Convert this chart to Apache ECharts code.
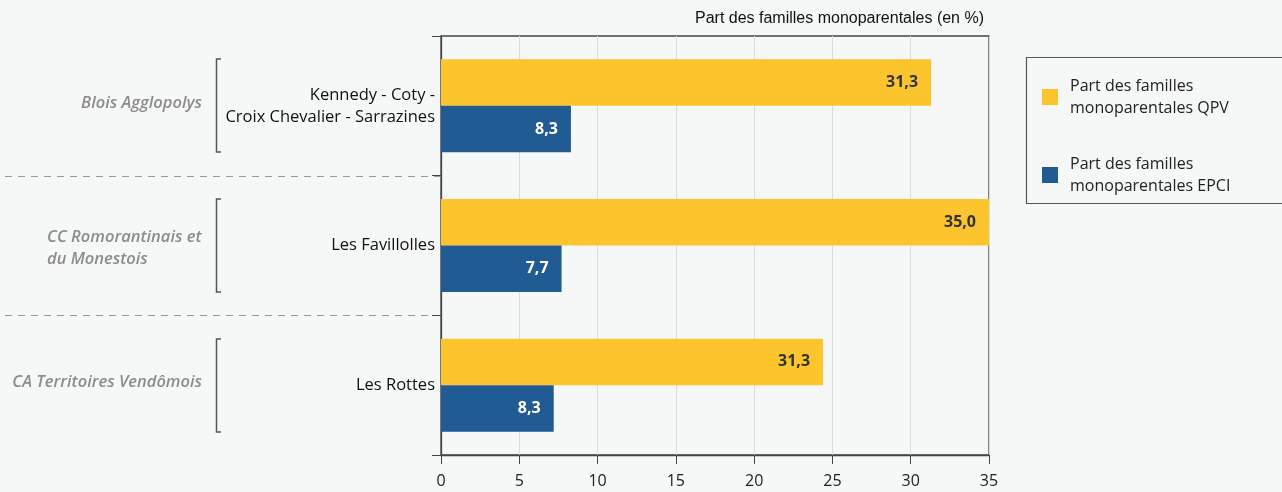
<!DOCTYPE html>
<html>
<head>
<meta charset="utf-8">
<script src="https://cdn.jsdelivr.net/npm/echarts@6/dist/echarts.min.js"></script>
<style>
  html, body { margin: 0; padding: 0; background: #f6f7f7; }
  #chart { width: 1282px; height: 492px; }
</style>
</head>
<body>
<div id="chart"></div>
<script>
// données
const categories = ['Kennedy - Coty -\nCroix Chevalier - Sarrazines', 'Les Favillolles', 'Les Rottes']
const groups = ['Blois Agglopolys', 'CC Romorantinais et\ndu Monestois', 'CA Territoires Vendômois']
const qpvValues = [31.3, 35.0, 24.4]
const epciValues = [8.3, 7.7, 7.2]
const qpvLabels = ['31,3', '35,0', '31,3']
const epciLabels = ['8,3', '7,7', '8,3']
const seriesNames = ['Part des familles\nmonoparentales QPV', 'Part des familles\nmonoparentales EPCI']

const font = '"Open Sans", "DejaVu Sans", sans-serif'
const dark = '#444'

const chart = echarts.init(document.getElementById('chart'))

chart.setOption({
  backgroundColor: '#f6f7f7',
  animation: false,
  title: {
    text: 'Part des familles monoparentales (en %)',
    right: 293,
    top: 6,
    textStyle: { fontFamily: '"Liberation Sans", Arial, sans-serif', fontSize: 16, fontWeight: 'normal', color: '#111' }
  },
  grid: {
    left: 441, right: 293, top: 36, bottom: 37,
    show: true, borderColor: dark, borderWidth: 1.3, backgroundColor: 'transparent'
  },
  legend: {
    orient: 'vertical',
    left: 1037,
    top: 70,
    itemWidth: 16,
    itemHeight: 16,
    itemGap: 34,
    icon: 'rect',
    textStyle: { fontFamily: font, fontSize: 16, color: '#222', lineHeight: 22, padding: [0, 0, 0, 7] },
    data: seriesNames
  },
  xAxis: {
    type: 'value',
    min: 0, max: 35, interval: 5,
    axisLine: { show: true, lineStyle: { color: dark, width: 1.3 } },
    axisTick: { show: true, length: 9, lineStyle: { color: dark } },
    axisLabel: { fontFamily: font, fontSize: 16, color: '#222', margin: 18 },
    splitLine: { show: true, lineStyle: { color: '#dcdcdc', width: 1 } }
  },
  yAxis: {
    type: 'category',
    inverse: true,
    data: categories,
    axisLine: { show: true, lineStyle: { color: dark, width: 1.3 } },
    axisTick: { show: true, length: 9, lineStyle: { color: dark } },
    axisLabel: { fontFamily: font, fontSize: 16.5, color: '#111', margin: 6, lineHeight: 22 }
  },
  series: [
    {
      name: seriesNames[0],
      type: 'bar',
      data: qpvValues,
      barGap: '0%',
      barCategoryGap: '33.4%',
      itemStyle: { color: '#fcc42d' },
      label: {
        show: true, position: 'insideRight', distance: 13,
        formatter: p => qpvLabels[p.dataIndex],
        fontFamily: font, fontSize: 16, fontWeight: 'bold', color: '#333'
      }
    },
    {
      name: seriesNames[1],
      type: 'bar',
      data: epciValues,
      itemStyle: { color: '#215b94' },
      label: {
        show: true, position: 'insideRight', distance: 13,
        formatter: p => epciLabels[p.dataIndex],
        fontFamily: font, fontSize: 16, fontWeight: 'bold', color: '#fff'
      }
    }
  ]
})

// séparateurs, accolades et noms des EPCI, placés à partir de l'axe
function drawExtras() {
  const centers = categories.map((c, i) => chart.convertToPixel({ yAxisIndex: 0 }, i))
  const band = centers[1] - centers[0]
  const half = band * (1 - 0.334) / 2
  const axisX = chart.convertToPixel({ xAxisIndex: 0 }, 0)
  const elements = []

  for (let i = 0; i < centers.length - 1; i++) {
    const y = Math.round((centers[i] + centers[i + 1]) / 2) + 0.5
    elements.push({
      type: 'line', silent: true,
      shape: { x1: 5, y1: y, x2: axisX, y2: y },
      style: { stroke: '#999', lineWidth: 1, lineDash: [7, 6] }
    })
  }

  centers.forEach((cy, i) => {
    const top = Math.round(cy - half)
    const bot = Math.round(cy + half)
    elements.push({
      type: 'polyline', silent: true,
      shape: { points: [[221, top], [216.5, top], [216.5, bot], [221, bot]] },
      style: { stroke: '#555', lineWidth: 1.5, fill: null }
    })
    const multi = groups[i].indexOf('\n') >= 0
    elements.push({
      type: 'text', silent: true,
      x: multi ? 47 : 202,
      y: multi ? cy + 3 : cy - 3,
      style: {
        text: groups[i],
        align: multi ? 'left' : 'right',
        verticalAlign: 'middle',
        fontFamily: font, fontSize: 16.5, fontStyle: 'italic', fontWeight: 600,
        fill: '#8c8c8c', lineHeight: 22
      }
    })
  })

  // cadre de la légende
  elements.push({
    type: 'rect', silent: true, z: -1,
    shape: { x: 1026.5, y: 57.5, width: 300, height: 146 },
    style: { stroke: '#555', lineWidth: 1.2, fill: null }
  })

  chart.setOption({ graphic: elements })
}

drawExtras()
</script>
</body>
</html>
